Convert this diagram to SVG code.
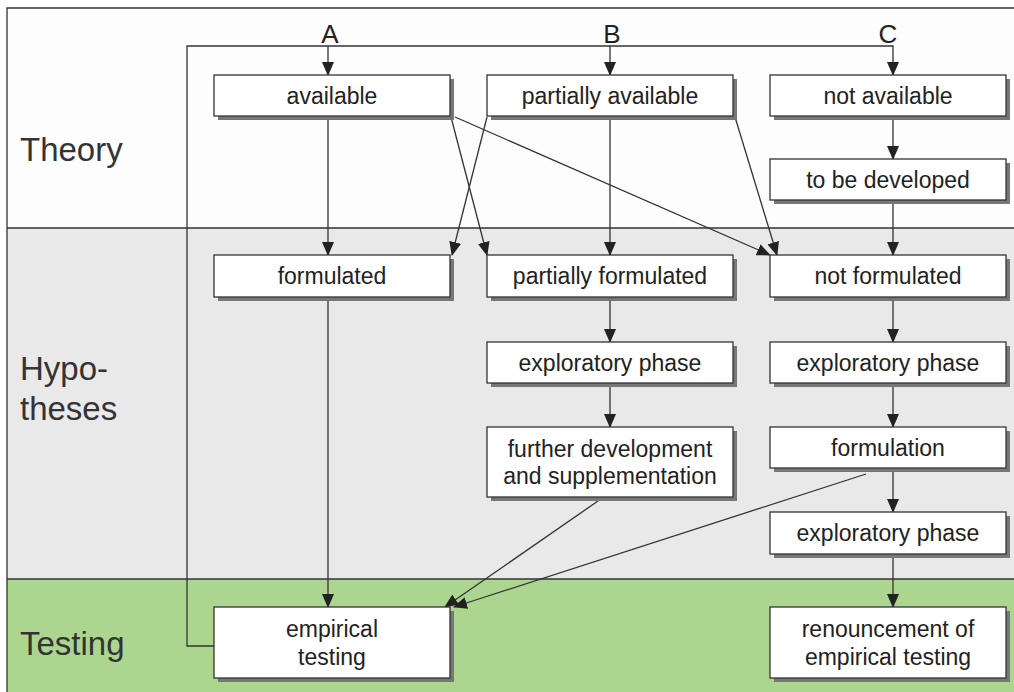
<svg xmlns="http://www.w3.org/2000/svg" width="1014" height="692" viewBox="0 0 1014 692">
<style>
.band-line{stroke:#333;stroke-width:1.3;fill:none}
.lbl{font-family:"Liberation Sans",Arial,sans-serif;font-size:33px;fill:#333}
.col{font-family:"Liberation Sans",Arial,sans-serif;font-size:26px;fill:#222;text-anchor:middle}
.box{fill:#fff;stroke:#333;stroke-width:1.3}
.shadow{fill:#777}
.t{font-family:"Liberation Sans",Arial,sans-serif;font-size:23px;fill:#222;text-anchor:middle}
.c{stroke:#333;stroke-width:1.3;fill:none}
.a{marker-end:url(#arr)}
</style>
<defs>
<marker id="arr" viewBox="0 0 14 12" refX="13" refY="6" markerWidth="14" markerHeight="12" markerUnits="userSpaceOnUse" orient="auto">
<path d="M0,0 L14,6 L0,12 Z" fill="#222"/>
</marker>
</defs>
<g id="bands">
<rect x="7" y="8" width="1010" height="220" fill="#fdfdfd"/>
<rect x="7" y="228" width="1010" height="351" fill="#e9e9e9"/>
<rect x="7" y="579" width="1010" height="115" fill="#acd590"/>
<path class="band-line" d="M7,700 V8 H1020 M7,228 H1020 M7,579 H1020"/>
<text class="lbl" x="20" y="161">Theory</text>
<text class="lbl" x="20" y="380">Hypo-</text>
<text class="lbl" x="20" y="420">theses</text>
<text class="lbl" x="20" y="655">Testing</text>
<text class="col" x="330" y="43">A</text>
<text class="col" x="612" y="43">B</text>
<text class="col" x="888" y="43">C</text>
</g>
<g id="connectors">
<path class="c a" d="M214,646 H187 V46 H893 V75"/>
<path class="c a" d="M328,46 V75"/>
<path class="c a" d="M610,46 V75"/>
<path class="c a" d="M328,117 V255"/>
<path class="c a" d="M455,117 L770,255"/>
<path class="c a" d="M451,117 L487,255"/>
<path class="c a" d="M487,117 L452,255"/>
<path class="c a" d="M610,117 V255"/>
<path class="c a" d="M735,117 L777,255"/>
<path class="c a" d="M893,117 V159"/>
<path class="c a" d="M893,201 V255"/>
<path class="c a" d="M328,298 V607"/>
<path class="c a" d="M610,298 V342"/>
<path class="c a" d="M610,384 V427"/>
<path class="c a" d="M893,298 V342"/>
<path class="c a" d="M893,384 V427"/>
<path class="c a" d="M893,469 V512"/>
<path class="c a" d="M893,555 V607"/>
<path class="c a" d="M598,501 L445,607"/>
<path class="c a" d="M866,474 L454,607"/>
</g>
<g id="n-available"><rect class="shadow" x="218" y="79" width="236" height="41"/><rect class="box" x="214" y="75" width="236" height="41"/><text class="t" x="332" y="104">available</text></g>
<g id="n-partially-available"><rect class="shadow" x="491" y="79" width="246" height="41"/><rect class="box" x="487" y="75" width="246" height="41"/><text class="t" x="610" y="104">partially available</text></g>
<g id="n-not-available"><rect class="shadow" x="774" y="79" width="236" height="41"/><rect class="box" x="770" y="75" width="236" height="41"/><text class="t" x="888" y="104">not available</text></g>
<g id="n-to-be-developed"><rect class="shadow" x="774" y="163" width="236" height="41"/><rect class="box" x="770" y="159" width="236" height="41"/><text class="t" x="888" y="188">to be developed</text></g>
<g id="n-formulated"><rect class="shadow" x="218" y="259" width="236" height="42"/><rect class="box" x="214" y="255" width="236" height="42"/><text class="t" x="332" y="284">formulated</text></g>
<g id="n-partially-formulated"><rect class="shadow" x="491" y="259" width="246" height="42"/><rect class="box" x="487" y="255" width="246" height="42"/><text class="t" x="610" y="284">partially formulated</text></g>
<g id="n-not-formulated"><rect class="shadow" x="774" y="259" width="236" height="42"/><rect class="box" x="770" y="255" width="236" height="42"/><text class="t" x="888" y="284">not formulated</text></g>
<g id="n-exploratory-b"><rect class="shadow" x="491" y="346" width="246" height="41"/><rect class="box" x="487" y="342" width="246" height="41"/><text class="t" x="610" y="371">exploratory phase</text></g>
<g id="n-exploratory-c1"><rect class="shadow" x="774" y="346" width="236" height="41"/><rect class="box" x="770" y="342" width="236" height="41"/><text class="t" x="888" y="371">exploratory phase</text></g>
<g id="n-further-development"><rect class="shadow" x="491" y="431" width="246" height="70"/><rect class="box" x="487" y="427" width="246" height="70"/><text class="t" x="610" y="457">further development</text><text class="t" x="610" y="484">and supplementation</text></g>
<g id="n-formulation"><rect class="shadow" x="774" y="431" width="236" height="41"/><rect class="box" x="770" y="427" width="236" height="41"/><text class="t" x="888" y="456">formulation</text></g>
<g id="n-exploratory-c2"><rect class="shadow" x="774" y="516" width="236" height="42"/><rect class="box" x="770" y="512" width="236" height="42"/><text class="t" x="888" y="541">exploratory phase</text></g>
<g id="n-empirical-testing"><rect class="shadow" x="218" y="611" width="236" height="71"/><rect class="box" x="214" y="607" width="236" height="71"/><text class="t" x="332" y="637">empirical</text><text class="t" x="332" y="665">testing</text></g>
<g id="n-renouncement"><rect class="shadow" x="774" y="611" width="236" height="71"/><rect class="box" x="770" y="607" width="236" height="71"/><text class="t" x="888" y="637">renouncement of</text><text class="t" x="888" y="665">empirical testing</text></g>
</svg>
